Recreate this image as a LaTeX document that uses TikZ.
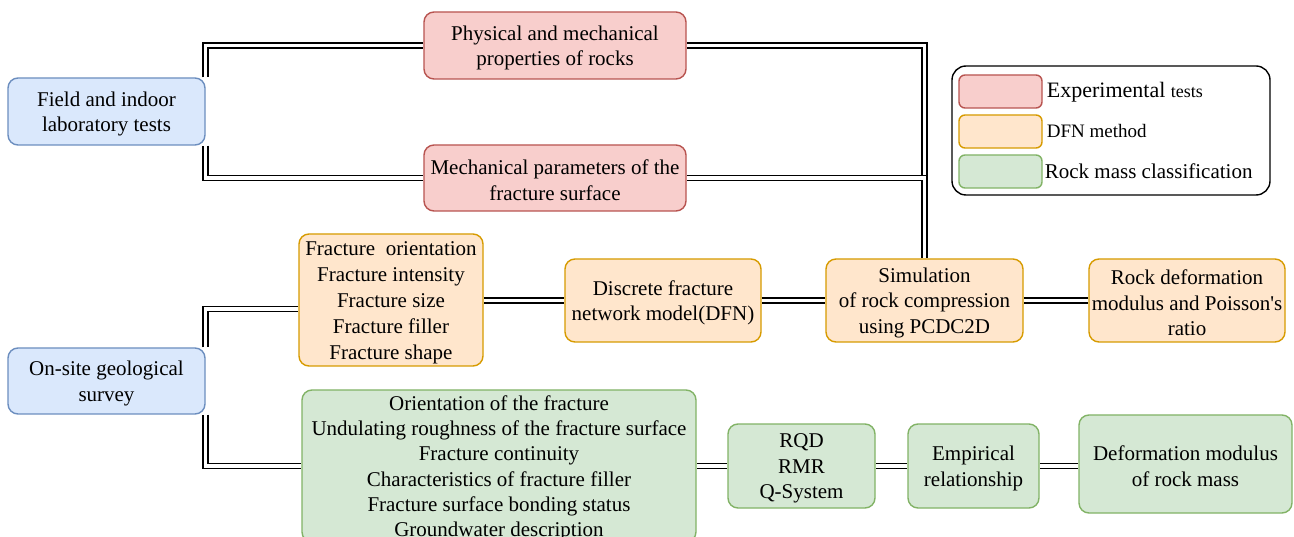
\documentclass[tikz,border=0pt]{standalone}
\usepackage{fontspec}
\setmainfont{Liberation Serif}
\usetikzlibrary{backgrounds}
\definecolor{bluefill}{HTML}{DAE8FC}\definecolor{bluedraw}{HTML}{6C8EBF}
\definecolor{redfill}{HTML}{F8CECC}\definecolor{reddraw}{HTML}{B85450}
\definecolor{orangefill}{HTML}{FFE6CC}\definecolor{orangedraw}{HTML}{D79B00}
\definecolor{greenfill}{HTML}{D5E8D4}\definecolor{greendraw}{HTML}{82B366}
\newcommand\topfix{\rule{0pt}{19.5pt}}
\begin{document}
\begin{tikzpicture}[x=1pt,y=-1pt,
  box/.style={rounded corners=10pt, line width=1.4pt, align=center, inner sep=0pt,
    font=\fontsize{21}{25.5}\selectfont},
  bluebox/.style={box, fill=bluefill, draw=bluedraw},
  redbox/.style={box, fill=redfill, draw=reddraw},
  orangebox/.style={box, fill=orangefill, draw=orangedraw},
  greenbox/.style={box, fill=greenfill, draw=greendraw},
  swatch/.style={minimum width=83pt, minimum height=33pt, rounded corners=6pt},
  legtext/.style={anchor=west, inner sep=0pt},
  dbl/.style={draw=black, double=white, double distance=3.5pt, line width=1.5pt}]
\useasboundingbox (0,0) rectangle (1294,537);
\clip (0,0) rectangle (1294,537);

\node[bluebox, minimum width=197pt, minimum height=67pt] (field) at (106.5,111.5) {\topfix Field and indoor\\laboratory tests};
\node[redbox, minimum width=262pt, minimum height=67pt] (phys) at (555,45.5) {\topfix Physical and mechanical\\properties of rocks};
\node[redbox, minimum width=262pt, minimum height=66pt] (mech) at (555,178) {\topfix Mechanical parameters of the\\fracture surface};
\node[bluebox, minimum width=197pt, minimum height=66pt] (onsite) at (106.5,381) {\topfix On-site geological\\survey};
\node[orangebox, minimum width=184pt, minimum height=132pt, font=\fontsize{21}{26}\selectfont] (frac) at (391,300) {\topfix Fracture\ \ orientation\\Fracture intensity\\Fracture size\\Fracture filler\\Fracture shape};
\node[orangebox, minimum width=196pt, minimum height=83pt] (dfn) at (663,300.5) {\topfix Discrete fracture\\network model(DFN)};
\node[orangebox, minimum width=197pt, minimum height=83pt] (sim) at (924.5,300.5) {\topfix Simulation\\of rock compression\\using PCDC2D};
\node[orangebox, minimum width=196pt, minimum height=83pt] (rockdef) at (1187,300.5) {\topfix Rock deformation\\modulus and Poisson\textquotesingle s\\ratio};
\node[greenbox, minimum width=394pt, minimum height=152pt, font=\fontsize{21}{25.3}\selectfont] (green) at (499,466) {\topfix Orientation of the fracture\\Undulating roughness of the fracture surface\\Fracture continuity\\Characteristics of fracture filler\\Fracture surface bonding status\\Groundwater description};
\node[greenbox, minimum width=147pt, minimum height=84pt] (rqd) at (801.5,466) {\topfix RQD\\RMR\\Q-System};
\node[greenbox, minimum width=131pt, minimum height=84pt] (emp) at (973.5,466) {\topfix Empirical\\relationship};
\node[greenbox, minimum width=213pt, minimum height=98pt] (defm) at (1185.5,464) {\topfix Deformation modulus\\of rock mass};

% legend
\node[draw=black, rounded corners=14pt, line width=1.4pt, minimum width=318pt, minimum height=129pt] (legend) at (1111,130.5) {};
\node[redbox, swatch] (sw1) at (1000.5,91.5) {};
\node[orangebox, swatch] (sw2) at (1000.5,131.5) {};
\node[greenbox, swatch] (sw3) at (1000.5,171.5) {};
\node[legtext] (lt1) at ([xshift=4pt,yshift=-1pt]sw1.east) {\fontsize{22}{22}\selectfont Experimental \fontsize{18}{18}\selectfont tests};
\node[legtext] (lt2) at ([xshift=4pt]sw2.east) {\fontsize{19}{19}\selectfont DFN method};
\node[legtext] (lt3) at ([xshift=2pt]sw3.east) {\fontsize{21}{21}\selectfont Rock mass classification};

\begin{scope}[on background layer]
\fill[white] (0,0) rectangle (1294,537);
\draw[dbl] (field.north east) |- (phys.west);
\draw[dbl] (field.south east) |- (mech.west);
\draw[dbl] (phys.east) -| (sim.north);
\draw[dbl] (mech.east) -| (sim.north);
\draw[dbl] (onsite.north east) |- ([yshift=-9pt]frac.west);
\draw[dbl] (onsite.south east) |- (green.west);
\draw[dbl] (frac.east |- dfn.west) -- (dfn.west);
\draw[dbl] (dfn.east) -- (sim.west);
\draw[dbl] (sim.east) -- (rockdef.west);
\draw[dbl] (rqd.west -| green.east) -- (rqd.west);
\draw[dbl] (rqd.east) -- (emp.west);
\draw[dbl] (emp.east) -- (emp.east -| defm.west);
\end{scope}
\end{tikzpicture}
\end{document}
